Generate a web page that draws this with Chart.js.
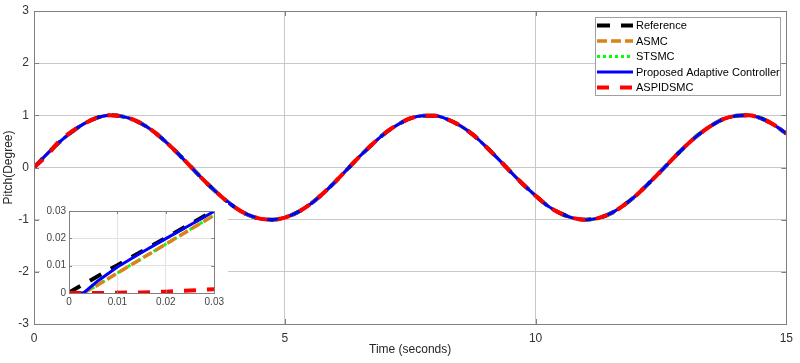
<!DOCTYPE html>
<html>
<head>
<meta charset="utf-8">
<title>Pitch</title>
<script src="https://cdn.jsdelivr.net/npm/chart.js@4.4.0/dist/chart.umd.min.js"></script>
<style>
body {margin: 0; background: #fff;}
#wrap {position: relative; width: 800px; height: 363px;}
#main {position: absolute; left: 0; top: 0;}
#inset {position: absolute; left: 40px; top: 203px; background: #fff;}
</style>
</head>
<body>
<div id="wrap">
  <canvas id="main" width="800" height="363"></canvas>
  <canvas id="inset" width="188" height="106"></canvas>
</div>
<script>
// main plot : time (s) and pitch (degree)
const tMain = [0, 0.25, 0.5, 0.75, 1, 1.25, 1.5, 1.75, 2, 2.25, 2.5, 2.75, 3, 3.25, 3.5, 3.75, 4, 4.25, 4.5, 4.75,
  5, 5.25, 5.5, 5.75, 6, 6.25, 6.5, 6.75, 7, 7.25, 7.5, 7.75, 8, 8.25, 8.5, 8.75, 9, 9.25, 9.5, 9.75,
  10, 10.25, 10.5, 10.75, 11, 11.25, 11.5, 11.75, 12, 12.25, 12.5, 12.75, 13, 13.25, 13.5, 13.75, 14, 14.25, 14.5, 14.75, 15];
const refMain = [0, 0.25, 0.48, 0.68, 0.84, 0.95, 1.0, 0.98, 0.91, 0.78, 0.6, 0.38, 0.14, -0.11, -0.35, -0.57, -0.76, -0.9, -0.98, -1.0,
  -0.96, -0.86, -0.71, -0.51, -0.28, -0.03, 0.22, 0.45, 0.66, 0.82, 0.94, 0.99, 0.99, 0.92, 0.8, 0.63, 0.41, 0.17, -0.08, -0.32,
  -0.54, -0.74, -0.88, -0.97, -1.0, -0.97, -0.88, -0.73, -0.54, -0.31, -0.07, 0.18, 0.42, 0.63, 0.8, 0.93, 0.99, 1.0, 0.94, 0.82, 0.65];
// ASMC, STSMC and the proposed controller sit on the reference at this scale
const asmcMain = refMain;
const stsmcMain = refMain;
const propMain = refMain;
const aspidMain = [0, 0.22, 0.5, 0.69, 0.84, 0.95, 1.0, 0.98, 0.91, 0.78, 0.6, 0.38, 0.14, -0.11, -0.35, -0.57, -0.76, -0.9, -0.98, -1.0,
  -0.96, -0.86, -0.71, -0.51, -0.28, -0.03, 0.22, 0.45, 0.66, 0.82, 0.94, 0.99, 0.99, 0.92, 0.8, 0.63, 0.41, 0.17, -0.08, -0.32,
  -0.54, -0.74, -0.88, -0.97, -1.0, -0.97, -0.88, -0.73, -0.54, -0.31, -0.07, 0.18, 0.42, 0.63, 0.8, 0.93, 0.99, 1.0, 0.94, 0.82, 0.65];

// zoomed inset, first 0.03 s
const tInset = [0, 0.003, 0.006, 0.01, 0.015, 0.02, 0.025, 0.03];
const refInset = [0.0002, 0.0032, 0.0062, 0.0102, 0.0152, 0.0202, 0.0252, 0.0302];
const asmcInset = [0, 0, 0.003, 0.0073, 0.0126, 0.0179, 0.0232, 0.0285];
const stsmcInset = [0, 0, 0.003, 0.0073, 0.0126, 0.0179, 0.0232, 0.0285];
const propInset = [0, 0, 0.0045, 0.0095, 0.0148, 0.0199, 0.0249, 0.0299];
const aspidInset = [0, 0, 0, 0.0001, 0.0002, 0.0005, 0.0009, 0.0014];

const seriesNames = ['Reference', 'ASMC', 'STSMC', 'Proposed Adaptive Controller', 'ASPIDSMC'];
const xTicksMain = [0, 5, 10, 15];
const yTicksMain = [-3, -2, -1, 0, 1, 2, 3];
const ticksInset = [0, 0.01, 0.02, 0.03];

// styles des courbes (order plus petit = dessine au dessus)
const styles = [
  {borderColor: '#000000', borderWidth: 4, borderDash: [13, 11], order: 5},
  {borderColor: '#D98319', borderWidth: 3.5, borderDash: [10, 4], order: 3},
  {borderColor: '#00FF00', borderWidth: 3, borderDash: [3, 3], order: 4},
  {borderColor: '#0000FF', borderWidth: 3, borderDash: [], order: 2},
  {borderColor: '#FF0000', borderWidth: 4, borderDash: [12, 11], order: 1}
];

function pts(xs, ys) {
  return xs.map((x, i) => ({x: x, y: ys[i]}));
}

function buildSets(xs, lists, smooth) {
  return lists.map((ys, i) => Object.assign({
    label: seriesNames[i],
    data: pts(xs, ys),
    pointRadius: 0,
    fill: false,
    cubicInterpolationMode: smooth ? 'monotone' : 'default',
    tension: 0
  }, styles[i]));
}

Chart.defaults.font.family = '"Liberation Sans", Arial, Helvetica, sans-serif';
Chart.defaults.color = '#333333';

// cadre + petits traits de graduation vers l'interieur
const boxPlugin = {
  id: 'boxFrame',
  afterDatasetsDraw(chart, args, opts) {
    const a = chart.chartArea, c = chart.ctx;
    const xs = chart.scales.x, ys = chart.scales.y;
    c.save();
    c.strokeStyle = opts.color || '#808080';
    c.lineWidth = 1;
    const L = opts.tick || 5;
    c.beginPath();
    xs.ticks.forEach(t => {
      const p = Math.round(xs.getPixelForValue(t.value)) + 0.5;
      c.moveTo(p, a.bottom); c.lineTo(p, a.bottom - L);
      c.moveTo(p, a.top); c.lineTo(p, a.top + L);
    });
    ys.ticks.forEach(t => {
      const p = Math.round(ys.getPixelForValue(t.value)) + 0.5;
      c.moveTo(a.left, p); c.lineTo(a.left + L, p);
      c.moveTo(a.right, p); c.lineTo(a.right - L, p);
    });
    c.stroke();
    c.strokeRect(Math.round(a.left) + 0.5, Math.round(a.top) + 0.5, Math.round(a.right - a.left), Math.round(a.bottom - a.top));
    c.restore();
  }
};

// legende dessinee a la main dans le coin haut droit
const legendPlugin = {
  id: 'boxLegend',
  afterDraw(chart, args, opts) {
    const c = chart.ctx;
    const x0 = opts.x, y0 = opts.y, w = opts.w, h = opts.h;
    c.save();
    c.fillStyle = '#ffffff';
    c.fillRect(x0, y0, w, h);
    c.strokeStyle = '#a0a0a0';
    c.lineWidth = 1;
    c.strokeRect(x0 + 0.5, y0 + 0.5, w, h);
    c.font = '11px "Liberation Sans", Arial, sans-serif';
    c.textBaseline = 'middle';
    c.fillStyle = '#000000';
    chart.data.datasets.forEach((ds, i) => {
      const yy = y0 + 8.5 + i * 15.5;
      c.beginPath();
      c.strokeStyle = ds.borderColor;
      c.lineWidth = ds.borderWidth;
      c.setLineDash(ds.borderDash);
      c.moveTo(x0 + 2, yy);
      c.lineTo(x0 + 38, yy);
      c.stroke();
      c.setLineDash([]);
      c.fillText(ds.label, x0 + 41, yy + 0.5);
    });
    c.restore();
  }
};

function fixTicks(list) {
  return function (scale) {
    scale.ticks = list.map(v => ({value: v}));
  };
}

new Chart(document.getElementById('main'), {
  type: 'line',
  data: {datasets: buildSets(tMain, [refMain, asmcMain, stsmcMain, propMain, aspidMain], true)},
  options: {
    responsive: false,
    animation: false,
    layout: {padding: {top: 6, right: 9, left: 0, bottom: 0}},
    plugins: {
      legend: {display: false},
      tooltip: {enabled: false},
      boxFrame: {color: '#808080', tick: 5},
      boxLegend: {x: 595, y: 17, w: 185, h: 78}
    },
    scales: {
      x: {
        type: 'linear', min: 0, max: 15,
        afterBuildTicks: fixTicks(xTicksMain),
        ticks: {font: {size: 12}, padding: 7, maxRotation: 0},
        grid: {color: '#c8c8c8', drawTicks: false},
        border: {display: false},
        title: {display: true, text: 'Time (seconds)', font: {size: 12}, padding: {top: 0, bottom: 6}, color: '#262626'},
        afterFit: s => { s.height = 39; }
      },
      y: {
        type: 'linear', min: -3, max: 3,
        afterBuildTicks: fixTicks(yTicksMain),
        ticks: {font: {size: 12, lineHeight: 1}, padding: 5},
        grid: {color: '#c8c8c8', drawTicks: false},
        border: {display: false},
        title: {display: true, text: 'Pitch(Degree)', font: {size: 12}, padding: {top: 1, bottom: 0}, color: '#262626'},
        afterFit: s => { s.width = 34; }
      }
    }
  },
  plugins: [boxPlugin, legendPlugin]
});

new Chart(document.getElementById('inset'), {
  type: 'line',
  data: {datasets: buildSets(tInset, [refInset, asmcInset, stsmcInset, propInset, aspidInset], false)},
  options: {
    responsive: false,
    animation: false,
    layout: {padding: {top: 8, right: 4, left: 0, bottom: 0}},
    plugins: {
      legend: {display: false},
      tooltip: {enabled: false},
      boxFrame: {color: '#808080', tick: 3}
    },
    scales: {
      x: {
        type: 'linear', min: 0, max: 0.03,
        afterBuildTicks: fixTicks(ticksInset),
        ticks: {font: {size: 10, lineHeight: 1}, padding: 4, maxRotation: 0, color: '#444444'},
        grid: {color: '#e2e2e2', drawTicks: false},
        border: {display: false},
        afterFit: s => { s.height = 16; }
      },
      y: {
        type: 'linear', min: 0, max: 0.03,
        afterBuildTicks: fixTicks(ticksInset),
        ticks: {font: {size: 10, lineHeight: 1}, padding: 3, color: '#444444'},
        grid: {color: '#e2e2e2', drawTicks: false},
        border: {display: false},
        afterFit: s => { s.width = 29; }
      }
    }
  },
  plugins: [boxPlugin]
});
</script>
</body>
</html>
